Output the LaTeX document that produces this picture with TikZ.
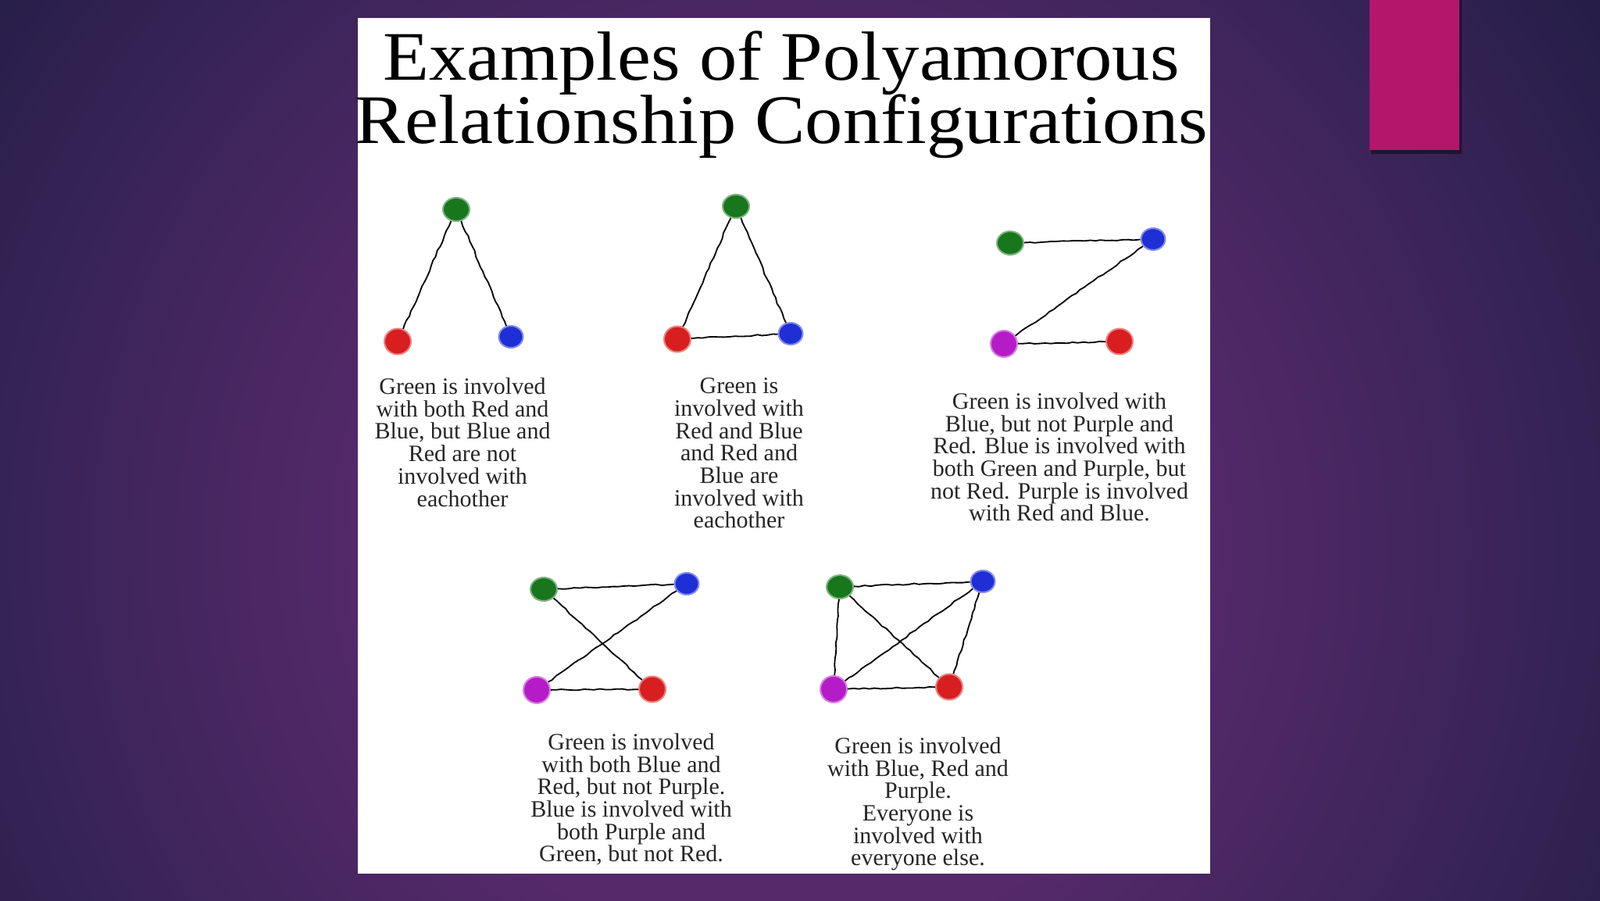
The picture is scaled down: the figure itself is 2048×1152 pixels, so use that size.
\documentclass[tikz,border=0pt]{standalone}
\usepackage{fontspec}
\setmainfont{Liberation Serif}
\usetikzlibrary{decorations.pathmorphing,shapes.geometric}
\definecolor{bgdark}{HTML}{221D46}
\definecolor{bgmid}{HTML}{3A2458}
\definecolor{bglight}{HTML}{55296A}
\definecolor{magbar}{HTML}{B3166A}
\definecolor{dotgreen}{HTML}{18761C}
\definecolor{dotred}{HTML}{D81E1E}
\definecolor{dotblue}{HTML}{1F2FD6}
\definecolor{dotpurple}{HTML}{B51CC8}
\pgfdeclareradialshading{bgglow}{\pgfpoint{0bp}{0bp}}{color(0bp)=(bglight); color(10bp)=(bglight); color(18bp)=(bgmid); color(25bp)=(bgdark); color(50bp)=(bgdark)}
\tikzset{
  dotbase/.style={ellipse, inner sep=0pt},
  gdot/.style={dotbase, fill=dotgreen, draw=dotgreen!55, line width=2pt, minimum width=34pt, minimum height=30pt},
  rdot/.style={dotbase, fill=dotred, draw=dotred!55, line width=2pt, minimum width=34pt, minimum height=33pt},
  bdot/.style={dotbase, fill=dotblue, draw=dotblue!55, line width=2pt, minimum width=31pt, minimum height=28pt},
  pdot/.style={dotbase, fill=dotpurple, draw=dotpurple!55, line width=2pt, minimum width=34pt, minimum height=34pt},
  edge/.style={black, line width=1.8pt, decorate, decoration={random steps, segment length=7pt, amplitude=0.9pt}},
  caption/.style={align=center, text=black!85, font=\fontsize{30}{28.7}\selectfont, inner sep=0pt},
  titletext/.style={anchor=base, font=\fontsize{89}{89}\selectfont, xscale=1.085, inner sep=0pt}
}
\begin{document}
\begin{tikzpicture}[x=1pt,y=-1pt]
\useasboundingbox (0,0) rectangle (2048,1152);
% background
\fill[bgdark] (0,0) rectangle (2048,1152);
\begin{scope}
\clip (0,0) rectangle (2048,1152);
\shade[shading=bgglow] (1000,700) circle (1300);
\end{scope}
% magenta bar with shadow
\fill[black!60!bgdark, opacity=0.6] (1755,0) rectangle (1871,197);
\fill[magbar] (1753,0) rectangle (1868,192);
% white panel
\fill[white] (458,23) rectangle (1549,1118);
% title
\node[titletext] (t1) at (1000,102) {Examples of Polyamorous};
\node[titletext] (t2) at (1000,183) {Relationship Configurations};

% diagram 1
\node[gdot] (d1g) at (584,268) {};
\node[rdot] (d1r) at (509,437) {};
\node[bdot] (d1b) at (654,431) {};
\draw[edge] (d1g) -- (d1r);
\draw[edge] (d1g) -- (d1b);
\node[caption] (c1) at (592,566) {Green is involved\\with both Red and\\Blue, but Blue and\\Red are not\\involved with\\eachother};

% diagram 2
\node[gdot] (d2g) at (942,264) {};
\node[rdot] (d2r) at (867,434) {};
\node[bdot] (d2b) at (1012,427) {};
\draw[edge] (d2g) -- (d2r);
\draw[edge] (d2g) -- (d2b);
\draw[edge] (d2r) -- (d2b);
\node[caption] (c2) at (946,580) {Green is\\involved with\\Red and Blue\\and Red and\\Blue are\\involved with\\eachother};

% diagram 3
\node[gdot] (d3g) at (1293,311) {};
\node[bdot] (d3b) at (1476,306) {};
\node[pdot] (d3p) at (1285,440) {};
\node[rdot] (d3r) at (1433,437) {};
\draw[edge] (d3g) -- (d3b);
\draw[edge] (d3b) -- (d3p);
\draw[edge] (d3p) -- (d3r);
\node[caption] (c3) at (1356,585) {Green is involved with\\Blue, but not Purple and\\Red. Blue is involved with\\both Green and Purple, but\\not Red. Purple is involved\\with Red and Blue.};

% diagram 4
\node[gdot] (d4g) at (696,754) {};
\node[bdot] (d4b) at (879,747) {};
\node[pdot] (d4p) at (687,883) {};
\node[rdot] (d4r) at (835,882) {};
\draw[edge] (d4g) -- (d4b);
\draw[edge] (d4g) -- (d4r);
\draw[edge] (d4b) -- (d4p);
\draw[edge] (d4p) -- (d4r);
\node[caption] (c4) at (808,1023) {Green is involved\\with both Blue and\\Red, but not Purple.\\Blue is involved with\\both Purple and\\Green, but not Red.};

% diagram 5
\node[gdot] (d5g) at (1075,751) {};
\node[bdot] (d5b) at (1258,744) {};
\node[pdot] (d5p) at (1067,882) {};
\node[rdot] (d5r) at (1215,879) {};
\draw[edge] (d5g) -- (d5b);
\draw[edge] (d5g) -- (d5p);
\draw[edge] (d5g) -- (d5r);
\draw[edge] (d5b) -- (d5p);
\draw[edge] (d5b) -- (d5r);
\draw[edge] (d5p) -- (d5r);
\node[caption] (c5) at (1175,1029) {Green is involved\\with Blue, Red and\\Purple.\\Everyone is\\involved with\\everyone else.};
\end{tikzpicture}
\end{document}
